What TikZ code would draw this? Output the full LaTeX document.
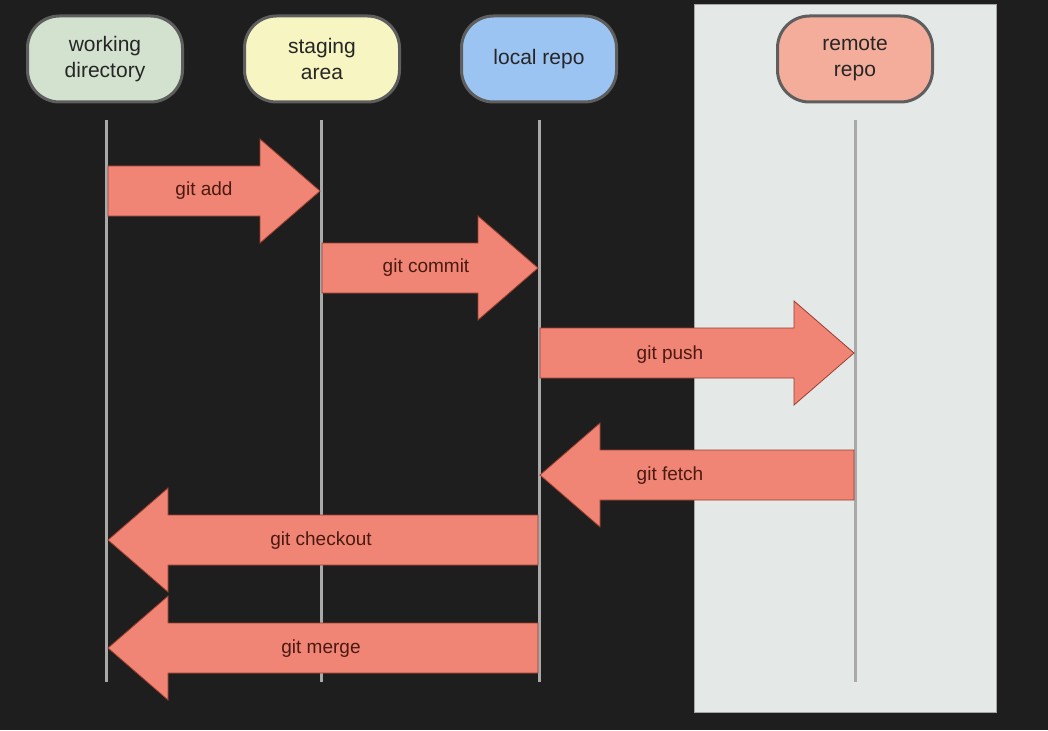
\documentclass[tikz,border=0pt]{standalone}
\usepackage{fontspec}
\setmainfont{Liberation Sans}
\usetikzlibrary{positioning, calc}

\definecolor{bgdark}{HTML}{1E1E1E}
\definecolor{remotebg}{HTML}{E4E8E7}
\definecolor{lifegrey}{HTML}{A9A9A9}
\definecolor{nodeedge}{HTML}{5E5E5E}
\definecolor{workfill}{HTML}{D3E2CF}
\definecolor{stagefill}{HTML}{F7F5C1}
\definecolor{localfill}{HTML}{9CC4F2}
\definecolor{remotefill}{HTML}{F4AD9A}
\definecolor{cmdfill}{HTML}{F08575}
\definecolor{cmdedge}{HTML}{9A3E2E}
\definecolor{cmdtext}{HTML}{4A1A12}

% block arrow from tail #1 to tip #2
\newcommand{\gitarrow}[2]{%
  \path ($(#2)!60pt!(#1)$) coordinate (h);
  \draw[cmdarrow] ($(#1)+(0,-25)$) -- ($(h)+(0,-25)$) -- ($(h)+(0,-52)$) -- (#2)
    -- ($(h)+(0,52)$) -- ($(h)+(0,25)$) -- ($(#1)+(0,25)$) -- cycle;
}

\begin{document}
\begin{tikzpicture}[x=1pt, y=-1pt]
\tikzstyle{every node}=[text=black!85]
\tikzstyle{place}=[draw=nodeedge, line width=3pt, rounded corners=32pt,
  minimum width=155pt, minimum height=86pt, align=center,
  font=\fontsize{21}{26}\selectfont]
\tikzstyle{lifeline}=[draw=lifegrey, line width=3pt]
\tikzstyle{cmdarrow}=[fill=cmdfill, draw=cmdedge, line width=0.8pt, line join=miter]
\tikzstyle{cmd}=[text=cmdtext, font=\fontsize{19}{23}\selectfont]

\useasboundingbox (0,0) rectangle (1048,730);
\fill[bgdark] (0,0) rectangle (1048,730);
\filldraw[fill=remotebg, draw=gray!70, line width=1pt] (694,5) rectangle (996,712);

\node[place, fill=workfill] at (105,59) (wd) {working\\directory};
\node[place, fill=stagefill] at (322,59) (sa) {staging\\area};
\node[place, fill=localfill] at (539,59) (lr) {local repo};
\node[place, fill=remotefill] at (855,59) (rr) {remote\\repo};

\coordinate (wd end) at (106,682);
\coordinate (sa end) at (321,682);
\coordinate (lr end) at (539,682);
\coordinate (rr end) at (855,682);
\draw[lifeline] (wd end |- 0,120) -- (wd end);
\draw[lifeline] (sa end |- 0,120) -- (sa end);
\draw[lifeline] (lr end |- 0,120) -- (lr end);
\draw[lifeline] (rr end |- 0,120) -- (rr end);

\coordinate (add from) at (108,191);
\coordinate (add to) at (320,191);
\coordinate (commit from) at (322,268);
\coordinate (commit to) at (538,268);
\coordinate (push from) at (540,353);
\coordinate (push to) at (854,353);
\coordinate (fetch from) at (854,475);
\coordinate (fetch to) at (540,475);
\coordinate (checkout from) at (538,540);
\coordinate (checkout to) at (108,540);
\coordinate (merge from) at (538,648);
\coordinate (merge to) at (108,648);

\gitarrow{add from}{add to}
\gitarrow{commit from}{commit to}
\gitarrow{push from}{push to}
\gitarrow{fetch from}{fetch to}
\gitarrow{checkout from}{checkout to}
\gitarrow{merge from}{merge to}

\node[cmd] at (204,191) (add) {git add};
\node[cmd] at (426,268) (commit) {git commit};
\node[cmd] at (670,355) (push) {git push};
\node[cmd] at (670,476) (fetch) {git fetch};
\node[cmd] at (321,541) (checkout) {git checkout};
\node[cmd] at (321,649) (merge) {git merge};
\end{tikzpicture}
\end{document}
